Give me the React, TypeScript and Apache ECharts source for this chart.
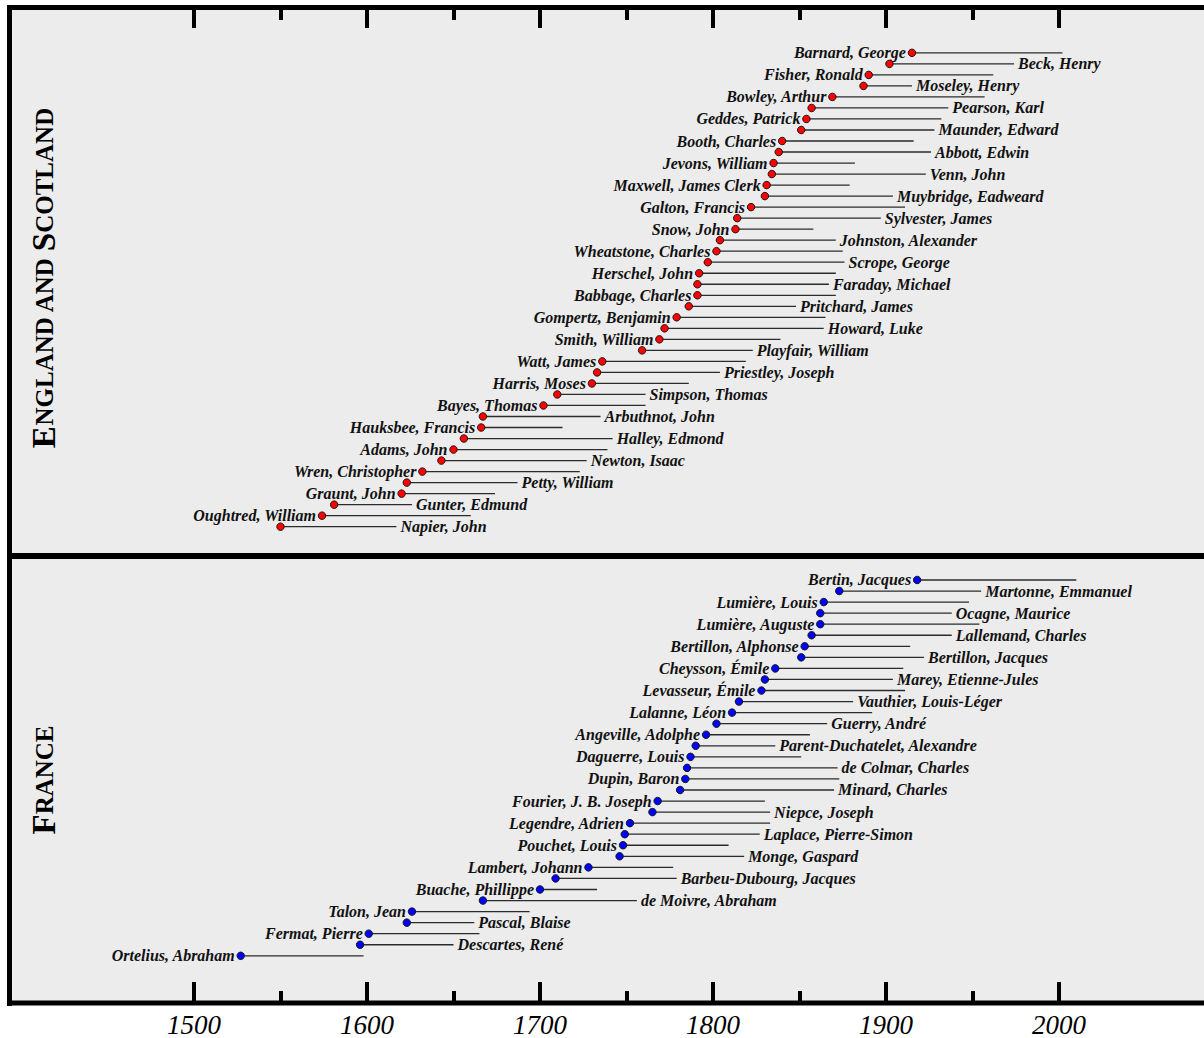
import React, { useEffect, useRef } from "react";
import * as echarts from "echarts";

const englandNames = ["Barnard, George", "Beck, Henry", "Fisher, Ronald", "Moseley, Henry", "Bowley, Arthur", "Pearson, Karl", "Geddes, Patrick", "Maunder, Edward", "Booth, Charles", "Abbott, Edwin", "Jevons, William", "Venn, John", "Maxwell, James Clerk", "Muybridge, Eadweard", "Galton, Francis", "Sylvester, James", "Snow, John", "Johnston, Alexander", "Wheatstone, Charles", "Scrope, George", "Herschel, John", "Faraday, Michael", "Babbage, Charles", "Pritchard, James", "Gompertz, Benjamin", "Howard, Luke", "Smith, William", "Playfair, William", "Watt, James", "Priestley, Joseph", "Harris, Moses", "Simpson, Thomas", "Bayes, Thomas", "Arbuthnot, John", "Hauksbee, Francis", "Halley, Edmond", "Adams, John", "Newton, Isaac", "Wren, Christopher", "Petty, William", "Graunt, John", "Gunter, Edmund", "Oughtred, William", "Napier, John"];
const englandBorn = [1915, 1902, 1890, 1887, 1869, 1857, 1854, 1851, 1840, 1838, 1835, 1834, 1831, 1830, 1822, 1814, 1813, 1804, 1802, 1797, 1792, 1791, 1791, 1786, 1779, 1772, 1769, 1759, 1736, 1733, 1730, 1710, 1702, 1667, 1666, 1656, 1650, 1643, 1632, 1623, 1620, 1581, 1574, 1550];
const englandDied = [2002, 1974, 1962, 1915, 1957, 1936, 1932, 1928, 1916, 1926, 1882, 1923, 1879, 1904, 1911, 1897, 1858, 1871, 1875, 1876, 1871, 1867, 1871, 1848, 1865, 1864, 1839, 1823, 1819, 1804, 1786, 1761, 1761, 1735, 1713, 1742, 1739, 1727, 1723, 1687, 1674, 1626, 1660, 1617];

const franceNames = ["Bertin, Jacques", "Martonne, Emmanuel", "Lumière, Louis", "Ocagne, Maurice", "Lumière, Auguste", "Lallemand, Charles", "Bertillon, Alphonse", "Bertillon, Jacques", "Cheysson, Émile", "Marey, Etienne-Jules", "Levasseur, Émile", "Vauthier, Louis-Léger", "Lalanne, Léon", "Guerry, André", "Angeville, Adolphe", "Parent-Duchatelet, Alexandre", "Daguerre, Louis", "de Colmar, Charles", "Dupin, Baron", "Minard, Charles", "Fourier, J. B. Joseph", "Niepce, Joseph", "Legendre, Adrien", "Laplace, Pierre-Simon", "Pouchet, Louis", "Monge, Gaspard", "Lambert, Johann", "Barbeu-Dubourg, Jacques", "Buache, Phillippe", "de Moivre, Abraham", "Talon, Jean", "Pascal, Blaise", "Fermat, Pierre", "Descartes, René", "Ortelius, Abraham"];
const franceBorn = [1918, 1873, 1864, 1862, 1862, 1857, 1853, 1851, 1836, 1830, 1828, 1815, 1811, 1802, 1796, 1790, 1787, 1785, 1784, 1781, 1768, 1765, 1752, 1749, 1748, 1746, 1728, 1709, 1700, 1667, 1626, 1623, 1601, 1596, 1527];
const franceDied = [2010, 1955, 1948, 1938, 1954, 1938, 1914, 1922, 1910, 1904, 1911, 1881, 1892, 1866, 1856, 1836, 1851, 1872, 1873, 1870, 1830, 1833, 1833, 1827, 1809, 1818, 1777, 1779, 1733, 1756, 1694, 1662, 1665, 1650, 1598];

const majorTicks = [1500, 1600, 1700, 1800, 1900, 2000];
const minorTicks = [1550, 1650, 1750, 1850, 1950];

const FONT = '"Liberation Serif", "Times New Roman", serif';

function buildRows(born: number[], died: number[]) {
  const n = born.length;
  return born.map((b, i) => [b, died[i], n - i, i % 2]);
}

function segSeries(names: string[], born: number[], died: number[], axisIdx: number, dotColor: string) {
  const rows = buildRows(born, died);
  return [
    {
      type: "custom",
      xAxisIndex: axisIdx,
      yAxisIndex: axisIdx,
      z: 2,
      encode: { x: [0, 1], y: 2 },
      data: rows,
      renderItem: (params: any, api: any) => {
        const b = api.value(0);
        const d = api.value(1);
        const r = api.value(2);
        const side = api.value(3);
        const p1 = api.coord([b, r]);
        const p2 = api.coord([d, r]);
        const name = names[params.dataIndex];
        return {
          type: "group",
          children: [
            {
              type: "line",
              shape: { x1: p1[0], y1: p1[1], x2: p2[0], y2: p2[1] },
              style: { stroke: "#2b2b2b", lineWidth: 1.3 },
            },
            {
              type: "text",
              x: side ? p2[0] + 4 : p1[0] - 6,
              y: p1[1],
              style: {
                text: name,
                textAlign: side ? "left" : "right",
                textVerticalAlign: "middle",
                fontFamily: FONT,
                fontStyle: "italic",
                fontWeight: "bold",
                fontSize: 16,
                fill: "#111111",
              },
            },
          ],
        };
      },
    },
    {
      type: "scatter",
      xAxisIndex: axisIdx,
      yAxisIndex: axisIdx,
      z: 5,
      symbol: "circle",
      symbolSize: 7.5,
      itemStyle: { color: dotColor, borderColor: "#1a1a1a", borderWidth: 1, opacity: 1 },
      data: rows.map((r) => [r[0], r[2]]),
    },
  ];
}

const PX_PER_YEAR = 1.73;
const GRID_LEFT = 10;
const GRID_W = 1194;
const X_MIN = 1500 - (194 - GRID_LEFT) / PX_PER_YEAR;
const X_MAX = X_MIN + GRID_W / PX_PER_YEAR;

function xAxisCfg(gridIndex: number, position: string, ticks: number[], len: number, labels: boolean) {
  return {
    type: "value",
    gridIndex,
    position,
    min: X_MIN,
    max: X_MAX,
    axisLine: { show: false, onZero: false },
    splitLine: { show: false },
    axisTick: {
      show: true,
      inside: true,
      length: len,
      customValues: ticks,
      lineStyle: { color: "#000", width: 4 },
    },
    axisLabel: labels
      ? {
          show: true,
          customValues: ticks,
          margin: 9,
          fontFamily: FONT,
          fontStyle: "italic",
          fontSize: 27,
          color: "#000",
          formatter: (v: number) => String(v),
        }
      : { show: false },
  };
}

export default function App() {
  const ref = useRef<HTMLDivElement>(null);
  useEffect(() => {
    if (!ref.current) return;
    const chart = echarts.init(ref.current, undefined, { renderer: "svg" });
    const topRect = { left: GRID_LEFT, top: 8, width: GRID_W, height: 548 };
    const botRect = { left: GRID_LEFT, top: 556, width: GRID_W, height: 447 };
    const option: any = {
      animation: false,
      backgroundColor: "#ffffff",
      grid: [
        { ...topRect, show: true, backgroundColor: "#ececec", borderWidth: 0 },
        { ...botRect, show: true, backgroundColor: "#ececec", borderWidth: 0 },
        { ...topRect, show: false },
        { ...botRect, show: false },
      ],
      xAxis: [
        xAxisCfg(0, "top", majorTicks, 20, false),
        xAxisCfg(1, "bottom", majorTicks, 20, true),
        xAxisCfg(2, "top", minorTicks, 12, false),
        xAxisCfg(3, "bottom", minorTicks, 12, false),
      ],
      yAxis: [
        { type: "value", gridIndex: 0, min: -1.66, max: 48.07, show: false },
        { type: "value", gridIndex: 1, min: -3.18, max: 37.17, show: false },
        { type: "value", gridIndex: 2, min: 0, max: 1, show: false },
        { type: "value", gridIndex: 3, min: 0, max: 1, show: false },
      ],
      series: [
        ...segSeries(englandNames, englandBorn, englandDied, 0, "#ff0000"),
        ...segSeries(franceNames, franceBorn, franceDied, 1, "#0000ff"),
      ],
      graphic: [
        { type: "line", z: 100, shape: { x1: 7, y1: 7.5, x2: 1204, y2: 7.5 }, style: { stroke: "#000", lineWidth: 5 } },
        { type: "line", z: 100, shape: { x1: 9.5, y1: 5, x2: 9.5, y2: 1006 }, style: { stroke: "#000", lineWidth: 5 } },
        { type: "line", z: 100, shape: { x1: 7, y1: 556, x2: 1204, y2: 556 }, style: { stroke: "#000", lineWidth: 6 } },
        { type: "line", z: 100, shape: { x1: 7, y1: 1003, x2: 1204, y2: 1003 }, style: { stroke: "#000", lineWidth: 5 } },
        {
          type: "text",
          z: 100,
          x: 44,
          y: 278,
          rotation: Math.PI / 2,
          style: {
            text: "{a|E}{b|NGLAND AND }{a|S}{b|COTLAND}",
            textAlign: "center",
            textVerticalAlign: "middle",
            fill: "#000",
            rich: {
              a: { fontFamily: FONT, fontSize: 33, fontWeight: "bold", fill: "#000" },
              b: { fontFamily: FONT, fontSize: 25, fontWeight: "bold", fill: "#000" },
            },
          },
        },
        {
          type: "text",
          z: 100,
          x: 44,
          y: 780,
          rotation: Math.PI / 2,
          style: {
            text: "{a|F}{b|RANCE}",
            textAlign: "center",
            textVerticalAlign: "middle",
            fill: "#000",
            rich: {
              a: { fontFamily: FONT, fontSize: 33, fontWeight: "bold", fill: "#000" },
              b: { fontFamily: FONT, fontSize: 25, fontWeight: "bold", fill: "#000" },
            },
          },
        },
      ],
    };
    chart.setOption(option);
    return () => chart.dispose();
  }, []);
  return (
    <div
      ref={ref}
      style={{ position: "absolute", left: 0, top: 0, width: 1204, height: 1038 }}
    />
  );
}
